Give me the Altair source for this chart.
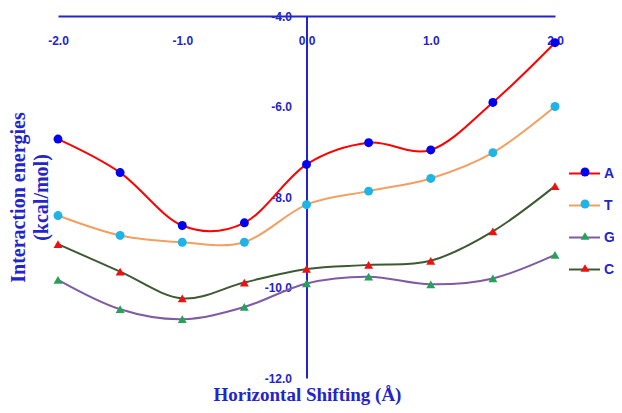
import altair as alt
import pandas as pd

shifts = [-2.0, -1.5, -1.0, -0.5, 0.0, 0.5, 1.0, 1.5, 2.0]
energy_A = [-6.72, -7.46, -8.63, -8.57, -7.28, -6.80, -6.96, -5.91, -4.59]
energy_T = [-8.41, -8.85, -9.00, -9.00, -8.17, -7.87, -7.59, -7.02, -6.00]
energy_G = [-9.83, -10.48, -10.70, -10.43, -9.91, -9.76, -9.93, -9.80, -9.28]
energy_C = [-9.04, -9.65, -10.24, -9.89, -9.59, -9.50, -9.41, -8.76, -7.76]

series = ["A", "T", "G", "C"]
line_colors = ["#ff0000", "#f2a061", "#7f5ba3", "#3d5a32"]
marker_colors = ["#0000ee", "#1eb4e6", "#27a05a", "#ee1111"]
marker_shapes = ["circle", "circle", "triangle-up", "triangle-up"]
x_ticks = [-2, -1, 0, 1, 2]
y_ticks = [-4, -6, -8, -10, -12]

rows = []
for name, vals in zip(series, [energy_A, energy_T, energy_G, energy_C]):
    for s, v in zip(shifts, vals):
        rows.append({"shift": s, "energy": v, "series": name, "series_pt": name})
df = pd.DataFrame(rows)

W, H = 497, 362
blue = "#2424cc"
label_expr = "datum.value < 0 ? '-' + format(-datum.value, '.1f') : format(datum.value, '.1f')"

x_enc = alt.X(
    "shift:Q",
    scale=alt.Scale(domain=[-2, 2], nice=False),
    axis=alt.Axis(
        orient="bottom", offset=-H, values=x_ticks, labelExpr=label_expr,
        ticks=False, tickSize=0, labelPadding=19, labelFlush=False, labelOverlap=False,
        domainColor=blue, domainWidth=2, grid=False,
        labelColor=blue, labelFont="Liberation Sans", labelFontSize=12, labelFontWeight="bold",
        title="Horizontal Shifting (Å)", titleX=249, titleY=384, titleAlign="center",
        titleBaseline="alphabetic", titleFont="Liberation Serif", titleFontSize=19,
        titleFontWeight="bold", titleColor=blue,
    ),
)
y_enc = alt.Y(
    "energy:Q",
    scale=alt.Scale(domain=[-12, -4], nice=False, zero=False),
    axis=alt.Axis(
        orient="left", offset=-W / 2, values=y_ticks, labelExpr=label_expr,
        ticks=False, tickSize=0, labelPadding=15, labelFlush=False, labelOverlap=False,
        domainColor=blue, domainWidth=2, grid=False,
        labelColor=blue, labelFont="Liberation Sans", labelFontSize=12, labelFontWeight="bold",
        title=["Interaction energies", "(kcal/mol)"], titleX=-288, titleY=H / 2,
        titleAngle=270, titleAlign="center", titleBaseline="middle",
        titleFont="Liberation Serif", titleFontSize=20, titleFontWeight="bold",
        titleColor=blue, titleLineHeight=23,
    ),
)

lines = alt.Chart(df).mark_line(interpolate="cardinal", strokeWidth=2).encode(
    x=x_enc,
    y=y_enc,
    stroke=alt.Stroke(
        "series:N",
        sort=series,
        scale=alt.Scale(range=line_colors),
        legend=alt.Legend(
            title=None, orient="none", legendX=510, legendY=141,
            symbolType="stroke", symbolSize=961, symbolStrokeWidth=2, rowPadding=8,
            labelFont="Liberation Sans", labelFontSize=14, labelFontWeight="bold",
            labelColor=blue, labelOffset=3,
        ),
    ),
    detail="series:N",
)

pt_legend = alt.Legend(
    title=None, orient="none", legendX=520, legendY=149,
    symbolSize=80, symbolStrokeWidth=0, rowPadding=18,
    labelFont="Liberation Sans", labelFontSize=14, labelFontWeight="bold",
    labelColor=blue, labelOpacity=0, labelOffset=4, labelExpr="''",
)

points = alt.Chart(df).mark_point(filled=True, size=80, opacity=1, strokeWidth=0).encode(
    x=alt.X("shift:Q"),
    y=alt.Y("energy:Q"),
    fill=alt.Fill("series_pt:N", scale=alt.Scale(domain=series, range=marker_colors), legend=pt_legend),
    shape=alt.Shape("series_pt:N", scale=alt.Scale(domain=series, range=marker_shapes), legend=pt_legend),
)

chart = alt.layer(lines, points).properties(
    width=W, height=H,
    autosize=alt.AutoSizeParams(type="none"),
    padding={"left": 50, "top": 8, "right": 59, "bottom": 27},
).configure_view(stroke=None)

chart.save("out.html", embed_options={"renderer": "svg", "actions": False})
